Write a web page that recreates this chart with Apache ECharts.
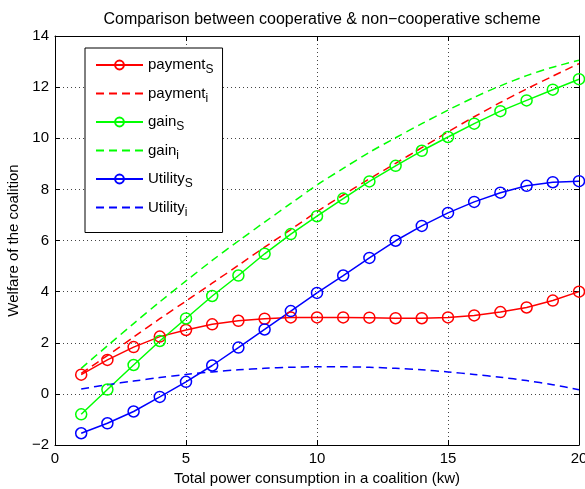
<!DOCTYPE html>
<html>
<head>
<meta charset="utf-8">
<script src="https://cdn.jsdelivr.net/npm/echarts@6/dist/echarts.min.js"></script>
<style>
html,body{margin:0;padding:0;background:#fff;}
#chart{width:585px;height:489px;}
</style>
</head>
<body>
<div id="chart"></div>
<script>
const xValues = [1,2,3,4,5,6,7,8,9,10,11,12,13,14,15,16,17,18,19,20];
const paymentS = [0.75,1.33,1.83,2.24,2.50,2.72,2.86,2.94,2.99,2.99,2.99,2.98,2.96,2.96,2.99,3.07,3.20,3.38,3.65,4.00];
const paymentI = [0.80,1.50,2.22,2.94,3.63,4.33,5.03,5.74,6.43,7.13,7.78,8.41,9.02,9.63,10.25,10.84,11.40,11.93,12.43,12.92];
const gainS = [-0.80,0.17,1.13,2.07,2.95,3.83,4.63,5.48,6.25,6.95,7.64,8.31,8.92,9.51,10.05,10.57,11.06,11.48,11.90,12.31];
const gainI = [1.00,1.88,2.75,3.60,4.42,5.22,5.98,6.72,7.45,8.17,8.82,9.45,10.02,10.57,11.10,11.60,12.05,12.45,12.78,13.05];
const utilityS = [-1.54,-1.15,-0.69,-0.12,0.47,1.11,1.81,2.52,3.24,3.95,4.63,5.32,5.99,6.57,7.08,7.51,7.87,8.14,8.28,8.32];
const utilityI = [0.19,0.36,0.50,0.64,0.76,0.86,0.94,1.00,1.04,1.06,1.06,1.04,1.00,0.94,0.86,0.76,0.65,0.52,0.36,0.16];
const seriesNames = ['payment_S','payment_i','gain_S','gain_i','Utility_S','Utility_i'];
const yTicks = [-2,0,2,4,6,8,10,12,14];
const xTicks = [0,5,10,15,20];
const titleText = 'Comparison between cooperative & non\u2212cooperative scheme';
const xTitle = 'Total power consumption in a coalition (kw)';
const yTitle = 'Welfare of the coalition';

const FONT = 'Liberation Sans, Arial, Helvetica, sans-serif';
const chart = echarts.init(document.getElementById('chart'), null, {renderer:'canvas'});

function pts(arr){ return xValues.map((x,i)=>[x, arr[i]]); }
function solid(name, color, arr){
  return {name, type:'line', data:pts(arr), symbol:'circle', symbolSize:11, showSymbol:true,
    lineStyle:{color, width:1.5, type:'solid'},
    itemStyle:{color:'rgba(255,255,255,0)', borderColor:color, borderWidth:1.5},
    emphasis:{disabled:true}, animation:false, z:2};
}
function dashed(name, color, arr){
  return {name, type:'line', data:pts(arr), symbol:'none', smooth:0.3,
    lineStyle:{color, width:1.5, type:[8,5]},
    itemStyle:{color},
    emphasis:{disabled:true}, animation:false, z:2};
}
const minus = v => String(v).replace('-', '\u2212');
const axisCommon = {
  axisLine:{show:true, onZero:false, lineStyle:{color:'#000', width:1}},
  axisTick:{show:true, inside:true, length:5, lineStyle:{color:'#000'}},
};
const legendData = seriesNames.map((n,i) => i % 2 === 1
  ? {name:n, itemStyle:{color:'rgba(0,0,0,0)', borderWidth:0, opacity:0}}
  : {name:n});

chart.setOption({
  backgroundColor:'#fff',
  animation:false,
  title:{text:titleText, left:317, textAlign:'center', top:7,
    textStyle:{fontFamily:FONT, fontSize:16, fontWeight:'normal', color:'#000'}},
  grid:{left:55, right:6, top:36, bottom:44, containLabel:false, outerBoundsMode:'none'},
  legend:{
    orient:'vertical', left:85, top:48, itemWidth:47, itemHeight:11, itemGap:6.5,
    padding:[6,9,14,10], borderColor:'#000', borderWidth:1, backgroundColor:'#fff',
    data:legendData,
    formatter: name => { const p = name.split('_'); return '{b|'+p[0]+'}{s|'+p[1]+'}'; },
    textStyle:{fontFamily:FONT, fontSize:15, color:'#000',
      rich:{b:{fontFamily:FONT, fontSize:15, color:'#000', lineHeight:16},
            s:{fontFamily:FONT, fontSize:12, color:'#000', lineHeight:16, padding:[10,0,0,0]}}},
    selectedMode:false
  },
  xAxis:[
    Object.assign({type:'value', min:0, max:20, interval:5, position:'bottom',
      name:xTitle, nameLocation:'middle', nameGap:24,
      nameTextStyle:{fontFamily:FONT, fontSize:15, color:'#000'},
      axisLabel:{fontFamily:FONT, fontSize:15, color:'#000', margin:6, formatter:minus},
      splitLine:{show:true, lineStyle:{color:'#444', width:1, type:[1,3]}}}, axisCommon),
    Object.assign({type:'value', min:0, max:20, interval:5, position:'top',
      axisLabel:{show:false}, splitLine:{show:false}}, axisCommon)
  ],
  yAxis:[
    Object.assign({type:'value', min:-2, max:14, interval:2, position:'left',
      name:yTitle, nameLocation:'middle', nameGap:30, nameRotate:90,
      nameTextStyle:{fontFamily:FONT, fontSize:15, color:'#000'},
      axisLabel:{fontFamily:FONT, fontSize:15, color:'#000', margin:6, formatter:minus},
      splitLine:{show:true, lineStyle:{color:'#444', width:1, type:[1,3]}}}, axisCommon),
    Object.assign({type:'value', min:-2, max:14, interval:2, position:'right',
      axisLabel:{show:false}, splitLine:{show:false}}, axisCommon)
  ],
  series:[
    solid(seriesNames[0], '#ff0000', paymentS),
    dashed(seriesNames[1], '#ff0000', paymentI),
    solid(seriesNames[2], '#00ff00', gainS),
    dashed(seriesNames[3], '#00ff00', gainI),
    solid(seriesNames[4], '#0000ff', utilityS),
    dashed(seriesNames[5], '#0000ff', utilityI)
  ]
});
</script>
</body>
</html>
